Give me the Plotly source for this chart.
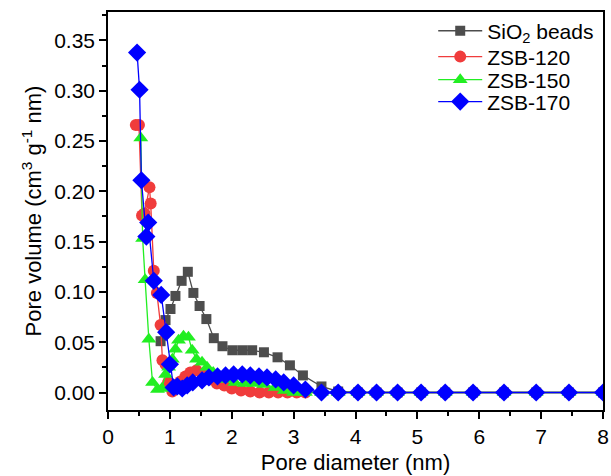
import plotly.graph_objects as go

# ---- data ----
zero_x = [3.45, 3.72, 4.04, 4.34, 4.68, 5.06, 5.45, 5.90, 6.40, 6.92, 7.45, 8.00]

sio2_x = [0.85, 0.93, 1.01, 1.09, 1.19, 1.29, 1.38, 1.48, 1.59, 1.71, 1.85, 2.01, 2.17, 2.33, 2.52, 2.74, 2.94, 3.15, 3.45, 3.72, 4.04, 4.34, 4.68, 5.06, 5.45, 5.90, 6.40, 6.92, 7.45, 8.00]
sio2_y = [0.051, 0.072, 0.083, 0.096, 0.111, 0.120, 0.099, 0.086, 0.073, 0.054, 0.046, 0.042, 0.042, 0.042, 0.040, 0.035, 0.027, 0.017, 0.006, 0.001, 0, 0, 0, 0, 0, 0, 0, 0, 0, 0]

zsb120_x = [0.45, 0.50, 0.55, 0.59, 0.67, 0.69, 0.74, 0.79, 0.85, 0.88, 0.93, 0.97, 1.04, 1.10, 1.17, 1.25, 1.33, 1.43, 1.53, 1.64, 1.76, 1.88, 2.00, 2.15, 2.30, 2.45, 2.60, 2.75, 2.90, 3.05, 3.19] + zero_x
zsb120_y = [0.266, 0.266, 0.176, 0.178, 0.204, 0.188, 0.121, 0.099, 0.067, 0.032, 0.028, 0.010, 0.001, 0.005, 0.011, 0.016, 0.020, 0.022, 0.018, 0.013, 0.009, 0.007, 0.004, 0.002, 0.001, 0.0, 0.0, 0.0, 0.0, 0.0, 0.0] + [0] * len(zero_x)

zsb150_x = [0.53, 0.56, 0.60, 0.66, 0.72, 0.80, 0.87, 0.93, 0.98, 1.04, 1.09, 1.14, 1.22, 1.30, 1.36, 1.43, 1.52, 1.60, 1.70, 1.80, 1.92, 2.05, 2.20, 2.35, 2.52, 2.70, 2.85, 3.00, 3.19] + zero_x
zsb150_y = [0.253, 0.153, 0.112, 0.053, 0.010, 0.003, 0.004, 0.018, 0.025, 0.033, 0.043, 0.052, 0.056, 0.055, 0.042, 0.033, 0.030, 0.025, 0.020, 0.016, 0.013, 0.010, 0.009, 0.009, 0.008, 0.005, 0.002, 0.0, 0.0] + [0] * len(zero_x)

zsb170_x = [0.47, 0.51, 0.54, 0.62, 0.65, 0.74, 0.86, 0.94, 1.00, 1.06, 1.12, 1.20, 1.28, 1.37, 1.52, 1.63, 1.77, 1.90, 2.03, 2.17, 2.30, 2.44, 2.57, 2.71, 2.84, 3.00, 3.19] + zero_x
zsb170_y = [0.338, 0.301, 0.211, 0.155, 0.169, 0.111, 0.097, 0.060, 0.028, 0.005, 0.006, 0.004, 0.007, 0.010, 0.012, 0.015, 0.016, 0.017, 0.018, 0.018, 0.017, 0.016, 0.015, 0.013, 0.010, 0.007, 0.003] + [0] * len(zero_x)

x_ticks = [0, 1, 2, 3, 4, 5, 6, 7, 8]
y_ticks = [0.00, 0.05, 0.10, 0.15, 0.20, 0.25, 0.30, 0.35]

FONT = "Liberation Sans, Arial, sans-serif"

fig = go.Figure()
fig.add_trace(go.Scatter(x=sio2_x, y=sio2_y, mode="lines+markers", name="SiO<sub>2</sub> beads",
                         legend="legend",
                         line=dict(color="#4D4D4D", width=1.3),
                         marker=dict(symbol="square", size=10, color="#4D4D4D")))
fig.add_trace(go.Scatter(x=zsb120_x, y=zsb120_y, mode="lines+markers", name="ZSB-120",
                         legend="legend2",
                         line=dict(color="#F03C3C", width=1.3),
                         marker=dict(symbol="circle", size=12, color="#F03C3C")))
fig.add_trace(go.Scatter(x=zsb150_x, y=zsb150_y, mode="lines+markers", name="ZSB-150",
                         legend="legend3",
                         line=dict(color="#22EE22", width=1.3),
                         marker=dict(symbol="triangle-up", size=13, color="#22EE22")))
fig.add_trace(go.Scatter(x=zsb170_x, y=zsb170_y, mode="lines+markers", name="ZSB-170",
                         legend="legend4",
                         line=dict(color="#0000FF", width=1.3),
                         marker=dict(symbol="diamond", size=14, color="#0000FF")))

def leg(y):
    return dict(x=0.657, y=y, xanchor="left", yanchor="middle",
                font=dict(size=21), bgcolor="rgba(0,0,0,0)",
                tracegroupgap=0, itemwidth=44)

fig.update_layout(
    width=611, height=476,
    margin=dict(l=108, r=8, t=12, b=66),
    paper_bgcolor="white", plot_bgcolor="white",
    font=dict(family=FONT, size=20, color="black"),
    showlegend=True,
    legend=leg(0.952), legend2=leg(0.887), legend3=leg(0.829), legend4=leg(0.774),
)
fig.update_xaxes(
    range=[0, 8], tickvals=x_ticks, ticktext=[str(v) for v in x_ticks],
    showline=True, linecolor="black", linewidth=1.5, mirror=True,
    ticks="outside", ticklen=7, tickwidth=1.5, tickcolor="black",
    minor=dict(dtick=0.5, ticks="outside", ticklen=4, tickwidth=1.5, tickcolor="black"),
    showgrid=False, zeroline=False, automargin=False,
    title=dict(text="Pore diameter (nm)", font=dict(size=22), standoff=8),
    tickfont=dict(size=21),
)
fig.update_yaxes(
    range=[-0.0174, 0.3783], tickvals=y_ticks, ticktext=[f"{v:.2f}" for v in y_ticks],
    showline=True, linecolor="black", linewidth=1.5, mirror=True,
    ticks="outside", ticklen=7, tickwidth=1.5, tickcolor="black",
    minor=dict(dtick=0.025, tick0=0, ticks="outside", ticklen=4, tickwidth=1.5, tickcolor="black"),
    showgrid=False, zeroline=False, automargin=False,
    title=dict(text="Pore volume (cm<sup>3</sup> g<sup>-1</sup> nm)", font=dict(size=22), standoff=6),
    tickfont=dict(size=21),
)

# remove the default page margin so the 611x476 figure fills the window exactly
fig.write_html("out.html", config={"displayModeBar": False},
               post_script="document.body.style.margin='0px';document.body.style.overflow='hidden';")
